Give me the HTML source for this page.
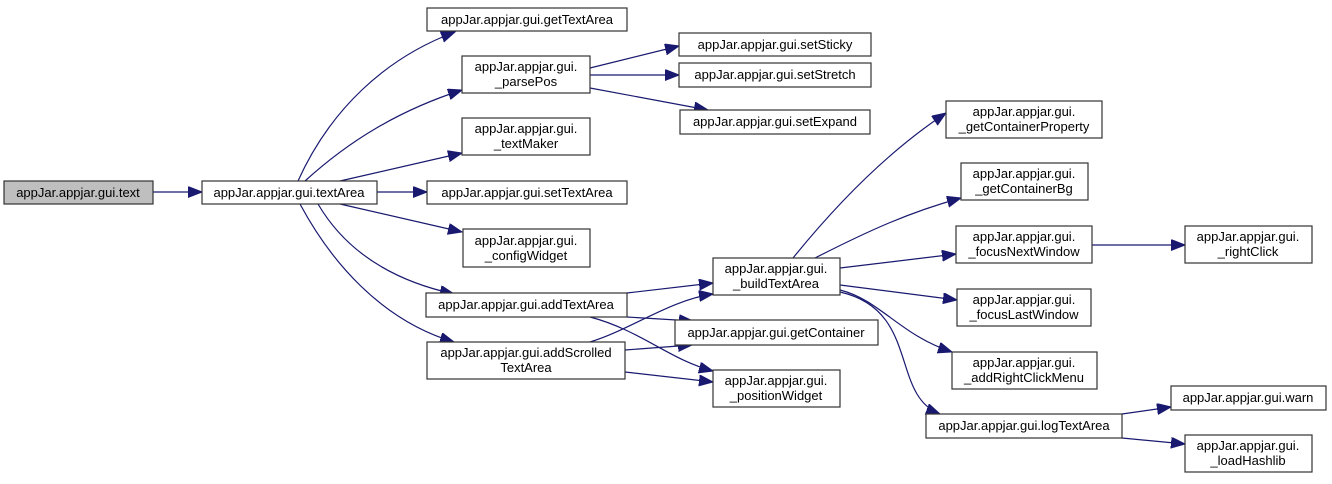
<!DOCTYPE html>
<html><head><meta charset="utf-8"><style>
html,body{margin:0;padding:0;background:#fff;}
svg text{font-family:"Liberation Sans",Arial,sans-serif;font-size:13px;fill:#000;text-anchor:middle;}
.n{fill:#fff;stroke:#333;stroke-width:1.2;}
.e{fill:none;stroke:#191970;stroke-width:1.2;}
</style></head><body>
<svg width="1332" height="479" viewBox="0 0 1332 479" xmlns="http://www.w3.org/2000/svg">
<defs><marker id="a" markerUnits="userSpaceOnUse" markerWidth="16" markerHeight="12" refX="14" refY="5.5" orient="auto"><path d="M0,0 L14,5.5 L0,11 Z" fill="#191970" stroke="#191970"/></marker></defs>
<g class="e" marker-end="url(#a)">
<path d="M153,192 L202,192"/>
<path d="M298,181 C330,110 385,58 455,32"/>
<path d="M305,181 C350,140 400,110 462,90"/>
<path d="M340,181 L462,153"/>
<path d="M377,192 L427,192"/>
<path d="M340,204 L462,232"/>
<path d="M318,204 C345,250 390,280 454,294"/>
<path d="M300,204 C330,260 380,320 454,342"/>
<path d="M590,68 L679,46"/>
<path d="M590,75 L679,75"/>
<path d="M590,88 L708,110"/>
<path d="M627,293 L713,283"/>
<path d="M627,317 L693,321"/>
<path d="M590,317 C640,330 670,360 713,371"/>
<path d="M590,342 C630,330 670,300 713,294"/>
<path d="M625,350 L692,345"/>
<path d="M625,372 L713,382"/>
<path d="M793,258 C840,200 890,150 946,113"/>
<path d="M815,258 C870,230 910,212 961,198"/>
<path d="M840,268 L956,254"/>
<path d="M840,285 L957,300"/>
<path d="M840,290 C880,300 900,335 952,352"/>
<path d="M840,292 C920,310 890,395 940,414"/>
<path d="M1092,245 L1185,245"/>
<path d="M1122,414 L1171,407"/>
<path d="M1122,438 L1185,444"/>
</g>
<rect x="4" y="181" width="149" height="23" fill="#bfbfbf" stroke="#333" stroke-width="1.2"/><text x="78" y="197">appJar.appjar.gui.text</text>
<rect class="n" x="202" y="181" width="175" height="23"/><text x="289" y="197">appJar.appjar.gui.textArea</text>
<rect class="n" x="427" y="8" width="200" height="23"/><text x="527" y="24">appJar.appjar.gui.getTextArea</text>
<rect class="n" x="462" y="56" width="128" height="37"/><text x="526" y="71">appJar.appjar.gui.</text><text x="526" y="86">_parsePos</text>
<rect class="n" x="462" y="118" width="128" height="37"/><text x="526" y="133">appJar.appjar.gui.</text><text x="526" y="148">_textMaker</text>
<rect class="n" x="427" y="181" width="200" height="23"/><text x="527" y="197">appJar.appjar.gui.setTextArea</text>
<rect class="n" x="463" y="229" width="127" height="38"/><text x="526" y="245">appJar.appjar.gui.</text><text x="526" y="260">_configWidget</text>
<rect class="n" x="426" y="293" width="201" height="24"/><text x="526" y="309">appJar.appjar.gui.addTextArea</text>
<rect class="n" x="427" y="342" width="198" height="37"/><text x="526" y="357">appJar.appjar.gui.addScrolled</text><text x="526" y="372">TextArea</text>
<rect class="n" x="679" y="33" width="192" height="23"/><text x="775" y="49">appJar.appjar.gui.setSticky</text>
<rect class="n" x="679" y="63" width="192" height="24"/><text x="775" y="79">appJar.appjar.gui.setStretch</text>
<rect class="n" x="680" y="110" width="190" height="24"/><text x="775" y="126">appJar.appjar.gui.setExpand</text>
<rect class="n" x="713" y="258" width="127" height="37"/><text x="776" y="273">appJar.appjar.gui.</text><text x="776" y="288">_buildTextArea</text>
<rect class="n" x="675" y="320" width="203" height="25"/><text x="776" y="337">appJar.appjar.gui.getContainer</text>
<rect class="n" x="713" y="370" width="127" height="37"/><text x="776" y="385">appJar.appjar.gui.</text><text x="776" y="400">_positionWidget</text>
<rect class="n" x="946" y="101" width="156" height="37"/><text x="1024" y="116">appJar.appjar.gui.</text><text x="1024" y="131">_getContainerProperty</text>
<rect class="n" x="961" y="163" width="127" height="37"/><text x="1024" y="178">appJar.appjar.gui.</text><text x="1024" y="193">_getContainerBg</text>
<rect class="n" x="956" y="226" width="136" height="37"/><text x="1024" y="241">appJar.appjar.gui.</text><text x="1024" y="256">_focusNextWindow</text>
<rect class="n" x="1185" y="226" width="127" height="37"/><text x="1248" y="241">appJar.appjar.gui.</text><text x="1248" y="256">_rightClick</text>
<rect class="n" x="957" y="289" width="134" height="37"/><text x="1024" y="304">appJar.appjar.gui.</text><text x="1024" y="319">_focusLastWindow</text>
<rect class="n" x="952" y="352" width="145" height="37"/><text x="1024" y="367">appJar.appjar.gui.</text><text x="1024" y="382">_addRightClickMenu</text>
<rect class="n" x="926" y="414" width="196" height="24"/><text x="1024" y="430">appJar.appjar.gui.logTextArea</text>
<rect class="n" x="1171" y="386" width="155" height="24"/><text x="1248" y="402">appJar.appjar.gui.warn</text>
<rect class="n" x="1185" y="435" width="127" height="37"/><text x="1248" y="450">appJar.appjar.gui.</text><text x="1248" y="465">_loadHashlib</text>
</svg>
</body></html>
